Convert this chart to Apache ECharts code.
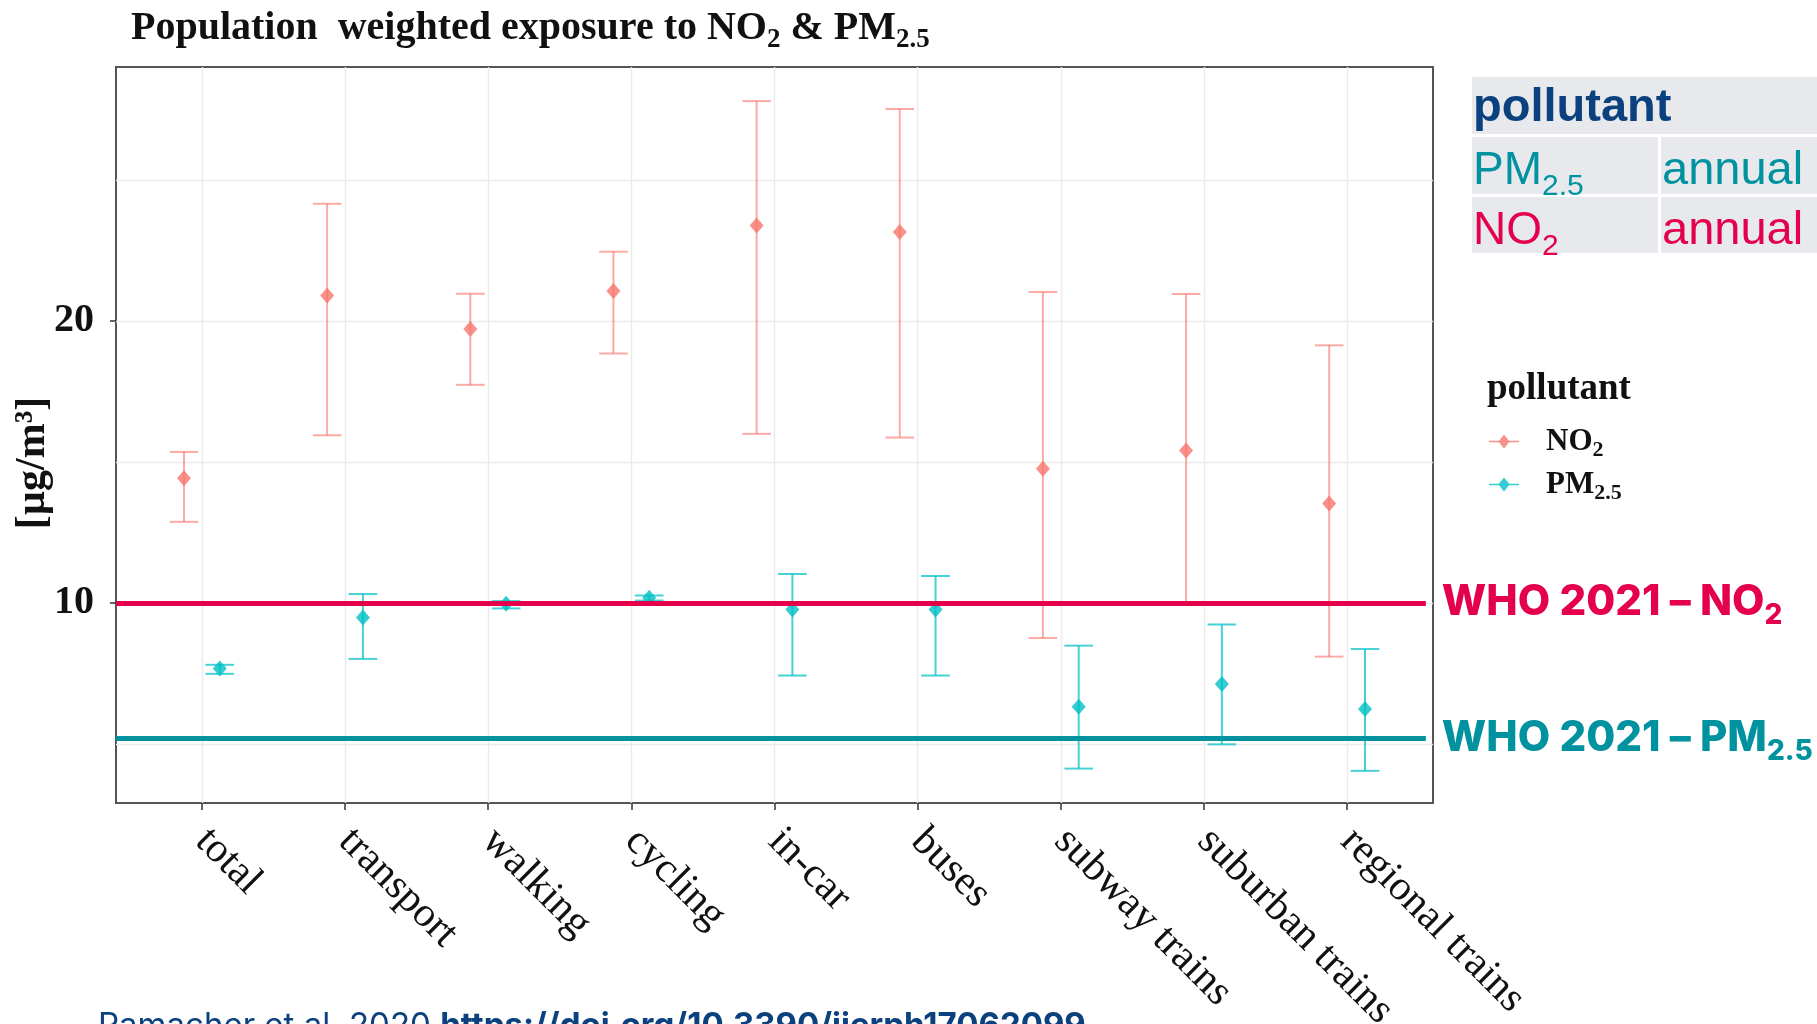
<!DOCTYPE html>
<html><head><meta charset="utf-8">
<script src="https://cdn.jsdelivr.net/npm/echarts@6/dist/echarts.min.js"></script>
<style>html,body{margin:0;padding:0;background:#fff}#c{width:1817px;height:1024px}</style>
</head><body><div id="c"></div>
<script>
// ---------- data ----------
const categories = ['total','transport','walking','cycling','in-car','buses','subway trains','suburban trains','regional trains'];
const no2Mean = [14.42, 20.90, 19.71, 21.06, 23.38, 23.15, 14.75, 15.40, 13.52];
const no2Low  = [12.87, 15.94, 17.73, 18.84, 15.99, 15.86, 8.75, 9.92, 8.09];
const no2High = [15.35, 24.15, 20.96, 22.45, 27.79, 27.51, 21.02, 20.95, 19.13];
const pmMean  = [7.67, 9.48, 9.97, 10.18, 9.76, 9.76, 6.31, 7.12, 6.23];
const pmLow   = [7.48, 8.01, 9.80, 10.08, 7.42, 7.42, 4.12, 4.98, 4.04];
const pmHigh  = [7.80, 10.31, 10.06, 10.26, 11.02, 10.95, 8.48, 9.23, 8.36];
const whoNO2 = 10;
const whoPM = 5.18;
const yMajorTicks = [10, 20];
const yGridTicks = [5, 10, 15, 20, 25];
const xTickValues = categories.map((c, i) => i + 1);

// ---------- style ----------
const SERIF = 'Liberation Serif';
const NO2_COL = '#F8766D', PM_COL = '#00BFC4';
const NO2_BAR = 'rgba(248,118,109,0.62)', PM_BAR = 'rgba(0,191,196,0.72)';
const RED = '#E4004B', TEAL = '#00929F', BLUE = '#0B417E';
const DODGE = 0.125, CAP = 0.1;

function subRich(F, f, d, extraMain, extraSub) {
  const p = Math.round(0.85 * F + d - 0.85 * f);
  return {
    m: Object.assign({fontSize: F, lineHeight: F, verticalAlign: 'top'}, extraMain || {}),
    s: Object.assign({fontSize: f, lineHeight: f, verticalAlign: 'top', padding: [p, 0, 0, 0]}, extraSub || {})
  };
}

function errorBars(name, low, high, offset, color) {
  return {
    type: 'custom', name: name, xAxisIndex: 0, yAxisIndex: 0, silent: true, z: 3,
    data: categories.map((c, i) => [i + 1 + offset, low[i], high[i]]),
    encode: {x: 0, y: [1, 2]},
    renderItem: function (params, api) {
      const x = api.value(0), lo = api.value(1), hi = api.value(2);
      const a = api.coord([x, lo]), b = api.coord([x, hi]);
      const half = api.size([CAP, 0])[0];
      const st = {stroke: color, lineWidth: 2, fill: null};
      return {type: 'group', children: [
        {type: 'line', shape: {x1: a[0], y1: a[1], x2: b[0], y2: b[1]}, style: st},
        {type: 'line', shape: {x1: b[0] - half, y1: b[1], x2: b[0] + half, y2: b[1]}, style: st},
        {type: 'line', shape: {x1: a[0] - half, y1: a[1], x2: a[0] + half, y2: a[1]}, style: st}
      ]};
    }
  };
}

const legendIcon = 'path://M0,6.3 L10,6.3 L15,0 L20,6.3 L30,6.3 L30,7.7 L20,7.7 L15,14 L10,7.7 L0,7.7 Z';

const chart = echarts.init(document.getElementById('c'), null, {renderer: 'canvas'});

const whoLabel = (txt, sub, col) => ({
  show: true, position: 'end', distance: 16,
  formatter: '{m|' + txt + '}{s|' + sub + '}',
  rich: subRich(42, 28, 8, {fontFamily: 'Inter', fontWeight: 800, color: col}, {fontFamily: 'Inter', fontWeight: 800, color: col})
});

const option = {
  backgroundColor: '#ffffff',
  animation: false,
  title: [
    {
      text: '{m|Population  weighted exposure to NO}{s|2}{m| & PM}{s|2.5}',
      left: 126, top: 4,
      textStyle: {rich: subRich(40, 27, 7, {fontFamily: SERIF, fontWeight: 'bold', color: '#111'}, {fontFamily: SERIF, fontWeight: 'bold', color: '#111'})}
    },
    {
      text: 'pollutant', left: 1482, top: 366,
      textStyle: {fontFamily: SERIF, fontWeight: 'bold', fontSize: 37, color: '#111'}
    }
  ],
  grid: {left: 116, top: 67, width: 1317, height: 736, show: true, borderColor: '#555', borderWidth: 2, backgroundColor: 'rgba(0,0,0,0)', containLabel: false, outerBoundsMode: 'none'},
  xAxis: {
    type: 'value', min: 0.4, max: 9.6,
    axisLine: {show: false},
    axisTick: {show: true, customValues: xTickValues, length: 7, lineStyle: {color: '#333', width: 1.5}},
    axisLabel: {
      customValues: xTickValues, interval: 0, rotate: -45, margin: 32,
      formatter: v => categories[Math.round(v) - 1],
      fontFamily: SERIF, fontSize: 42, color: '#111', hideOverlap: false
    },
    splitLine: {show: true, lineStyle: {color: '#ebebeb', width: 1.4}}
  },
  yAxis: [
    {
      type: 'value', min: 2.9, max: 29,
      axisLine: {show: false},
      axisTick: {show: false, customValues: yGridTicks},
      axisLabel: {show: false, customValues: yGridTicks},
      splitLine: {show: true, lineStyle: {color: '#ebebeb', width: 1.4}}
    },
    {
      type: 'value', min: 2.9, max: 29, position: 'left',
      axisLine: {show: false},
      axisTick: {show: true, customValues: yMajorTicks, length: 6, lineStyle: {color: '#333', width: 1.5}},
      axisLabel: {customValues: yMajorTicks, fontFamily: SERIF, fontWeight: 'bold', fontSize: 40, color: '#111', margin: 22},
      splitLine: {show: false},
      name: '[µg/m³]', nameLocation: 'middle', nameGap: 62, nameMoveOverlap: false,
      nameTextStyle: {fontFamily: SERIF, fontWeight: 'bold', fontSize: 42, color: '#111', padding: [0, 56, 0, 0]}
    }
  ],
  legend: {
    orient: 'vertical', left: 1484, top: 421, itemWidth: 30, itemHeight: 14, itemGap: 8,
    selectedMode: false,
    data: [{name: 'NO2', icon: legendIcon}, {name: 'PM2.5', icon: legendIcon}],
    formatter: n => n === 'NO2' ? '{m|NO}{s|2}' : '{m|PM}{s|2.5}',
    textStyle: {
      rich: (function () {
        const r = subRich(31, 22, 5, {fontFamily: SERIF, fontWeight: 'bold', color: '#111'}, {fontFamily: SERIF, fontWeight: 'bold', color: '#111'});
        r.m.padding = [0, 0, 0, 22];
        return r;
      })()
    }
  },
  series: [
    errorBars('NO2 range', no2Low, no2High, -DODGE, NO2_BAR),
    errorBars('PM2.5 range', pmLow, pmHigh, DODGE, PM_BAR),
    {
      type: 'scatter', name: 'NO2', symbol: 'diamond', symbolSize: [14, 16], z: 4,
      itemStyle: {color: NO2_COL},
      data: categories.map((c, i) => [i + 1 - DODGE, no2Mean[i]])
    },
    {
      type: 'scatter', name: 'PM2.5', symbol: 'diamond', symbolSize: [14, 16], z: 4,
      itemStyle: {color: PM_COL},
      data: categories.map((c, i) => [i + 1 + DODGE, pmMean[i]])
    },
    {
      type: 'line', name: 'WHO', data: [], z: 6, silent: true,
      markLine: {
        silent: true, symbol: 'none', animation: false,
        data: [
          [{coord: [0.4, whoNO2], lineStyle: {color: RED, width: 5, type: 'solid'}, label: whoLabel('WHO 2021 – NO', '2', RED)},
           {coord: [9.55, whoNO2]}],
          [{coord: [0.4, whoPM], lineStyle: {color: TEAL, width: 5, type: 'solid'}, label: whoLabel('WHO 2021 – PM', '2.5', TEAL)},
           {coord: [9.55, whoPM]}]
        ]
      }
    }
  ],
  graphic: [
    {type: 'rect', left: 1472, top: 77, shape: {width: 345, height: 57}, style: {fill: '#E8E9ED'}, z: 1},
    {type: 'rect', left: 1472, top: 137, shape: {width: 186, height: 57}, style: {fill: '#E8E9ED'}, z: 1},
    {type: 'rect', left: 1661, top: 137, shape: {width: 156, height: 57}, style: {fill: '#E8E9ED'}, z: 1},
    {type: 'rect', left: 1472, top: 197, shape: {width: 186, height: 56}, style: {fill: '#E8E9ED'}, z: 1},
    {type: 'rect', left: 1661, top: 197, shape: {width: 156, height: 56}, style: {fill: '#E8E9ED'}, z: 1},
    {type: 'text', left: 1473, top: 85, z: 2, style: {text: 'pollutant', font: 'bold 47px "Liberation Sans"', fill: BLUE}},
    {type: 'text', left: 1473, top: 148, z: 2, style: {text: '{m|PM}{s|2.5}', rich: subRich(46, 30, 10, {fontFamily: 'Liberation Sans', fill: TEAL}, {fontFamily: 'Liberation Sans', fill: TEAL})}},
    {type: 'text', left: 1662, top: 148, z: 2, style: {text: 'annual', font: '47px "Liberation Sans"', fill: TEAL}},
    {type: 'text', left: 1473, top: 208, z: 2, style: {text: '{m|NO}{s|2}', rich: subRich(46, 30, 10, {fontFamily: 'Liberation Sans', fill: RED}, {fontFamily: 'Liberation Sans', fill: RED})}},
    {type: 'text', left: 1662, top: 208, z: 2, style: {text: 'annual', font: '47px "Liberation Sans"', fill: RED}},
    {type: 'text', left: 98, top: 1010, z: 2, style: {
      text: '{r|Ramacher et al. 2020 }{b|https://doi.org/10.3390/ijerph17062099}',
      rich: {r: {fontFamily: 'Inter', fontSize: 33, fill: BLUE}, b: {fontFamily: 'Inter', fontWeight: 'bold', fontSize: 33, fill: BLUE}}
    }}
  ]
};
chart.setOption(option);
</script>
</body></html>
